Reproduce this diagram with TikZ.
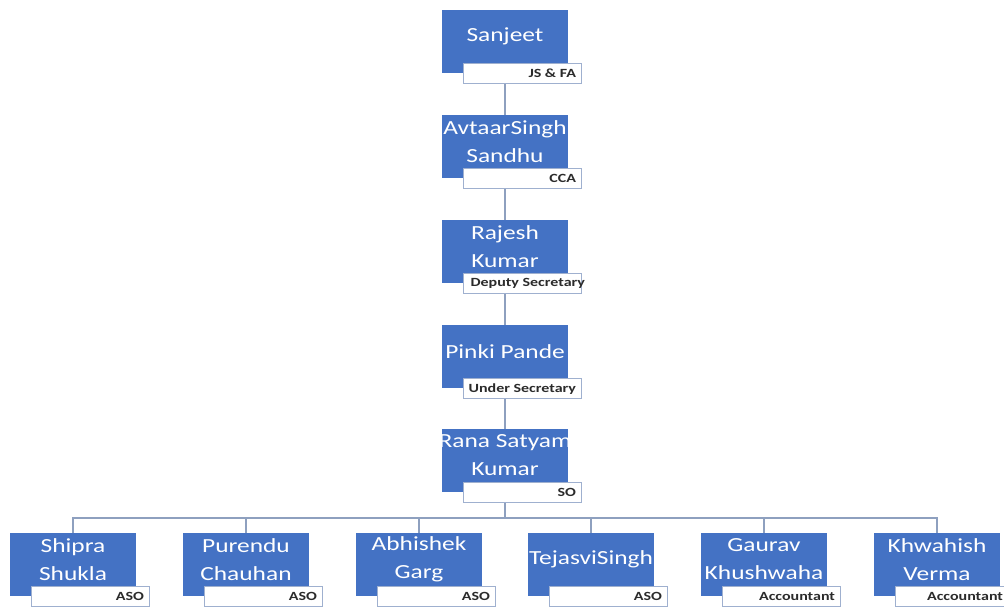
\documentclass[tikz,border=0pt]{standalone}
\usepackage{fontspec}
\setmainfont{Carlito}
\newfontfamily\namefont[FakeStretch=1.27]{Carlito}
\newfontfamily\rolefont[FakeStretch=1.28]{Carlito}
\usetikzlibrary{calc}
\definecolor{boxblue}{HTML}{4472C4}
\definecolor{linkgrey}{HTML}{8EA0BF}
\definecolor{tagedge}{HTML}{9FB0CF}
\definecolor{tagtext}{HTML}{2B2B2B}

\tikzset{
  namebox/.style={fill=boxblue, draw=none, minimum width=126pt, minimum height=63pt,
                  inner sep=0pt, anchor=north},
  nametext/.style={text=white, font=\namefont\fontsize{20}{28}\selectfont,
                   align=center, inner sep=0pt},
  rolebox/.style={fill=white, draw=tagedge, line width=1.2pt, minimum width=118pt,
                  minimum height=20pt, inner sep=0pt, anchor=north west},
  roletext/.style={text=tagtext, font=\rolefont\bfseries\fontsize{12.5}{14}\selectfont,
                   inner sep=0pt, anchor=east},
  link/.style={draw=linkgrey, line width=1.5pt},
}

% one member: [role text offset], id, centre x, top y, name, role
\newcommand\member[6][-6]{%
  \node[namebox] (#2) at (#3,#4) {};
  \node[nametext] (#2-n) at ($(#2.north)+(0,26.5)$) {#5};
  \node[rolebox] (#2-r) at ($(#2.north)+(-42,53)$) {};
  \node[roletext] (#2-t) at ($(#2-r.east)+(#1,0)$) {#6};
}

\begin{document}
\begin{tikzpicture}[x=1pt,y=-1pt]
  \useasboundingbox (0,0) rectangle (1004,611);

  % junction of the section staff lines
  \coordinate (bus) at (505,518);

  % chain of command
  \member{sanjeet}{505}{10}{Sanjeet}{JS \& FA}
  \member{avtaar}{505}{115}{AvtaarSingh\\Sandhu}{CCA}
  \member[3]{rajesh}{505}{220}{Rajesh\\Kumar}{Deputy Secretary}
  \member{pinki}{505}{325}{Pinki Pande}{Under Secretary}
  \member{rana}{505}{429}{Rana Satyam\\Kumar}{SO}

  % section staff
  \member{shipra}{73}{533}{Shipra\\Shukla}{ASO}
  \member{purendu}{246}{533}{Purendu\\Chauhan}{ASO}
  \member{abhishek}{419}{533}{Abhishek\\Garg}{ASO}
  \member{tejasvi}{591}{533}{TejasviSingh}{ASO}
  \member{gaurav}{764}{533}{Gaurav\\Khushwaha}{Accountant}
  \member[-11]{khwahish}{937}{533}{Khwahish\\Verma}{Accountant}

  % reporting lines
  \draw[link] (sanjeet-r.south -| sanjeet) -- (avtaar.north);
  \draw[link] (avtaar-r.south -| avtaar) -- (rajesh.north);
  \draw[link] (rajesh-r.south -| rajesh) -- (pinki.north);
  \draw[link] (pinki-r.south -| pinki) -- (rana.north);
  \draw[link] (rana-r.south -| rana) -- (bus);
  \foreach \m in {shipra,purendu,abhishek,tejasvi,gaurav,khwahish}
    \draw[link] (bus) -| (\m.north);
\end{tikzpicture}
\end{document}
